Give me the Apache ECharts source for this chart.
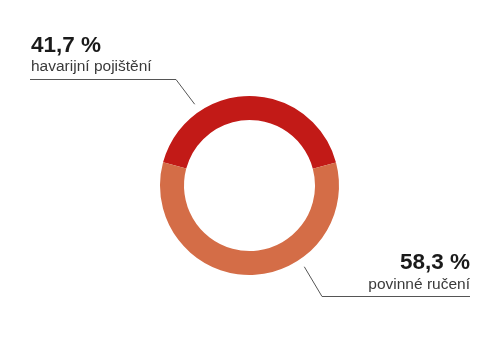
<!DOCTYPE html>
<html><head><meta charset="utf-8">
<script src="https://cdn.jsdelivr.net/npm/echarts@6/dist/echarts.min.js"></script>
<style>html,body{margin:0;padding:0;background:#fff}#c{width:500px;height:341px}</style>
</head><body><div id="c"></div>
<script>
const categories = ['havarijní pojištění', 'povinné ručení'];
const values = [41.7, 58.3];
const valueLabels = ['41,7 %', '58,3 %'];
const colors = ['#C21A17', '#D46D47'];

const CX = 249.5, CY = 185.5, R_OUT = 89.5, R_IN = 65.5;
const chart = echarts.init(document.getElementById('c'), null, {renderer: 'canvas'});

function layout(params) {
  const i = params.dataIndex;
  const ang = i === 0 ? 124 : -56; // degrees, anchor for leader line
  const r0 = 98;
  const a = ang * Math.PI / 180;
  const sx = CX + r0 * Math.cos(a), sy = CY - r0 * Math.sin(a);
  if (i === 0) {
    return {x: 31, y: 77, align: 'left', verticalAlign: 'bottom',
      labelLinePoints: [[sx, sy], [176, 79.5], [30, 79.5]]};
  } else {
    return {x: 470, y: 294.5, align: 'right', verticalAlign: 'bottom',
      labelLinePoints: [[sx, sy], [322, 296.5], [470, 296.5]]};
  }
}

chart.setOption({
  animation: false,
  series: [{
    type: 'pie',
    center: [CX, CY],
    radius: [R_IN, R_OUT],
    startAngle: 165,
    clockwise: true,
    silent: true,
    data: categories.map((c, i) => ({
      name: c, value: values[i],
      itemStyle: {color: colors[i]},
      label: {formatter: '{v|' + valueLabels[i] + '}\n{n|' + c + '}'}
    })),
    label: {
      show: true,
      position: 'outside',
      fontFamily: 'Liberation Sans, Arial, sans-serif',
      rich: {
        v: {fontSize: 22.5, fontWeight: 'bold', color: '#1a1a1a', lineHeight: 23, fontFamily: 'Liberation Sans, Arial, sans-serif'},
        n: {fontSize: 15.5, color: '#3a3a3a', lineHeight: 20, fontFamily: 'Liberation Sans, Arial, sans-serif'}
      }
    },
    labelLine: {show: true, lineStyle: {color: '#555', width: 1}},
    labelLayout: layout
  }]
});
</script></body></html>
